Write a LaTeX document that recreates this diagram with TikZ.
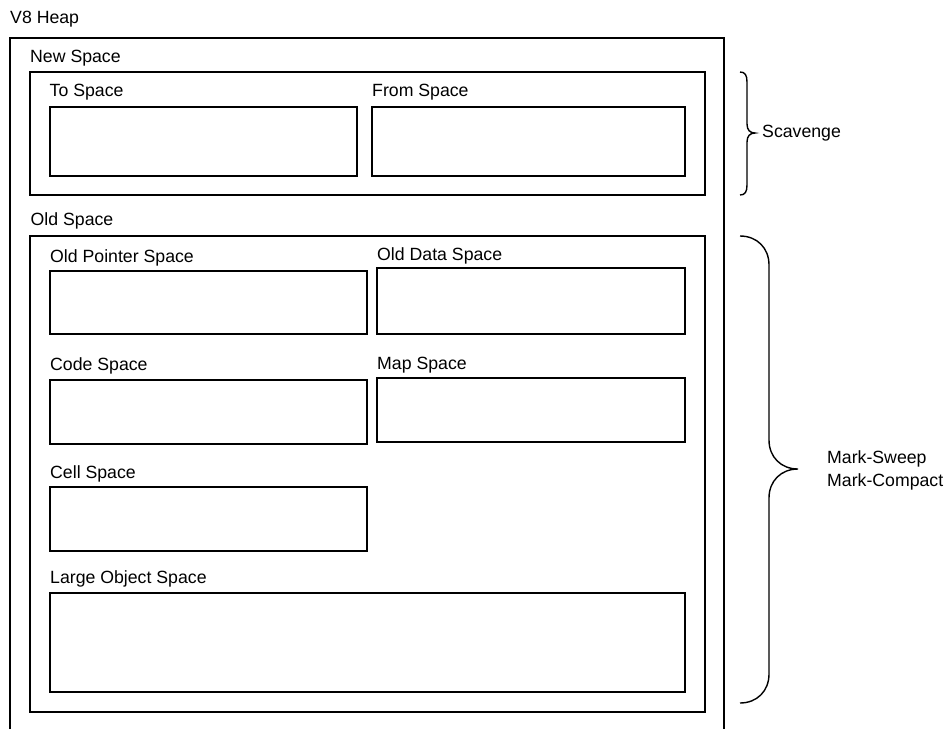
\documentclass[tikz,border=0pt]{standalone}
\usepackage{fontspec}
\setmainfont{Liberation Sans}
\usepackage{tikz}

\begin{document}
\begin{tikzpicture}[x=1pt,y=-1pt]
		\tikzset{spacename/.style={anchor=base west, inner sep=0pt, font=\fontsize{17.7}{23}\selectfont}}
		\tikzset{spacebox/.style={draw, line width=1.8pt}}
		\tikzset{gcbrace/.style={draw, line width=1.4pt}}
		\useasboundingbox (0,0) rectangle (947,729);
		%labels
		\node[spacename] (heap) at (10,23) {V8 Heap};
		\node[spacename] (newspace) at (30,62) {New Space};
		\node[spacename] (tospace) at (49.5,96) {To Space};
		\node[spacename] (fromspace) at (372,96) {From Space};
		\node[spacename] (oldspace) at (30.5,225) {Old Space};
		\node[spacename] (oldptr) at (50,262) {Old Pointer Space};
		\node[spacename] (olddata) at (377,260) {Old Data Space};
		\node[spacename] (code) at (50,370) {Code Space};
		\node[spacename] (map) at (377,369) {Map Space};
		\node[spacename] (cell) at (50,478) {Cell Space};
		\node[spacename] (large) at (50,583) {Large Object Space};
		\node[spacename] (scavenge) at (762,137) {Scavenge};
		\node[spacename] (sweep) at (827,463) {Mark-Sweep};
		\node[spacename] (compact) at (827,486) {Mark-Compact};
		%boxes
		\draw[spacebox] (10,729) -- (10,38) -- (724,38) -- (724,729);
		\draw[spacebox] (30,72) rectangle (705,195);
		\draw[spacebox] (50,107) rectangle (357,176);
		\draw[spacebox] (372,107) rectangle (685,176);
		\draw[spacebox] (30,236) rectangle (705,712);
		\draw[spacebox] (50,271) rectangle (367,334);
		\draw[spacebox] (377,268) rectangle (685,334);
		\draw[spacebox] (50,380) rectangle (367,444);
		\draw[spacebox] (377,378) rectangle (685,442);
		\draw[spacebox] (50,487) rectangle (367,551);
		\draw[spacebox] (50,593) rectangle (685,692);
		%braces
		\draw[gcbrace] (740,72) .. controls (745,72) and (747,75) .. (747,82) -- (747,124)
			.. controls (747,130) and (750,133) .. (755,133)
			.. controls (750,133) and (747,136) .. (747,142) -- (747,185)
			.. controls (747,192) and (745,195) .. (740,195);
		\draw[gcbrace] (740,236) .. controls (757,236) and (769,248) .. (769,265) -- (769,440)
			.. controls (769,457) and (781,469) .. (798,469)
			.. controls (781,469) and (769,481) .. (769,498) -- (769,674)
			.. controls (769,691) and (757,703) .. (740,703);
\end{tikzpicture}
\end{document}
